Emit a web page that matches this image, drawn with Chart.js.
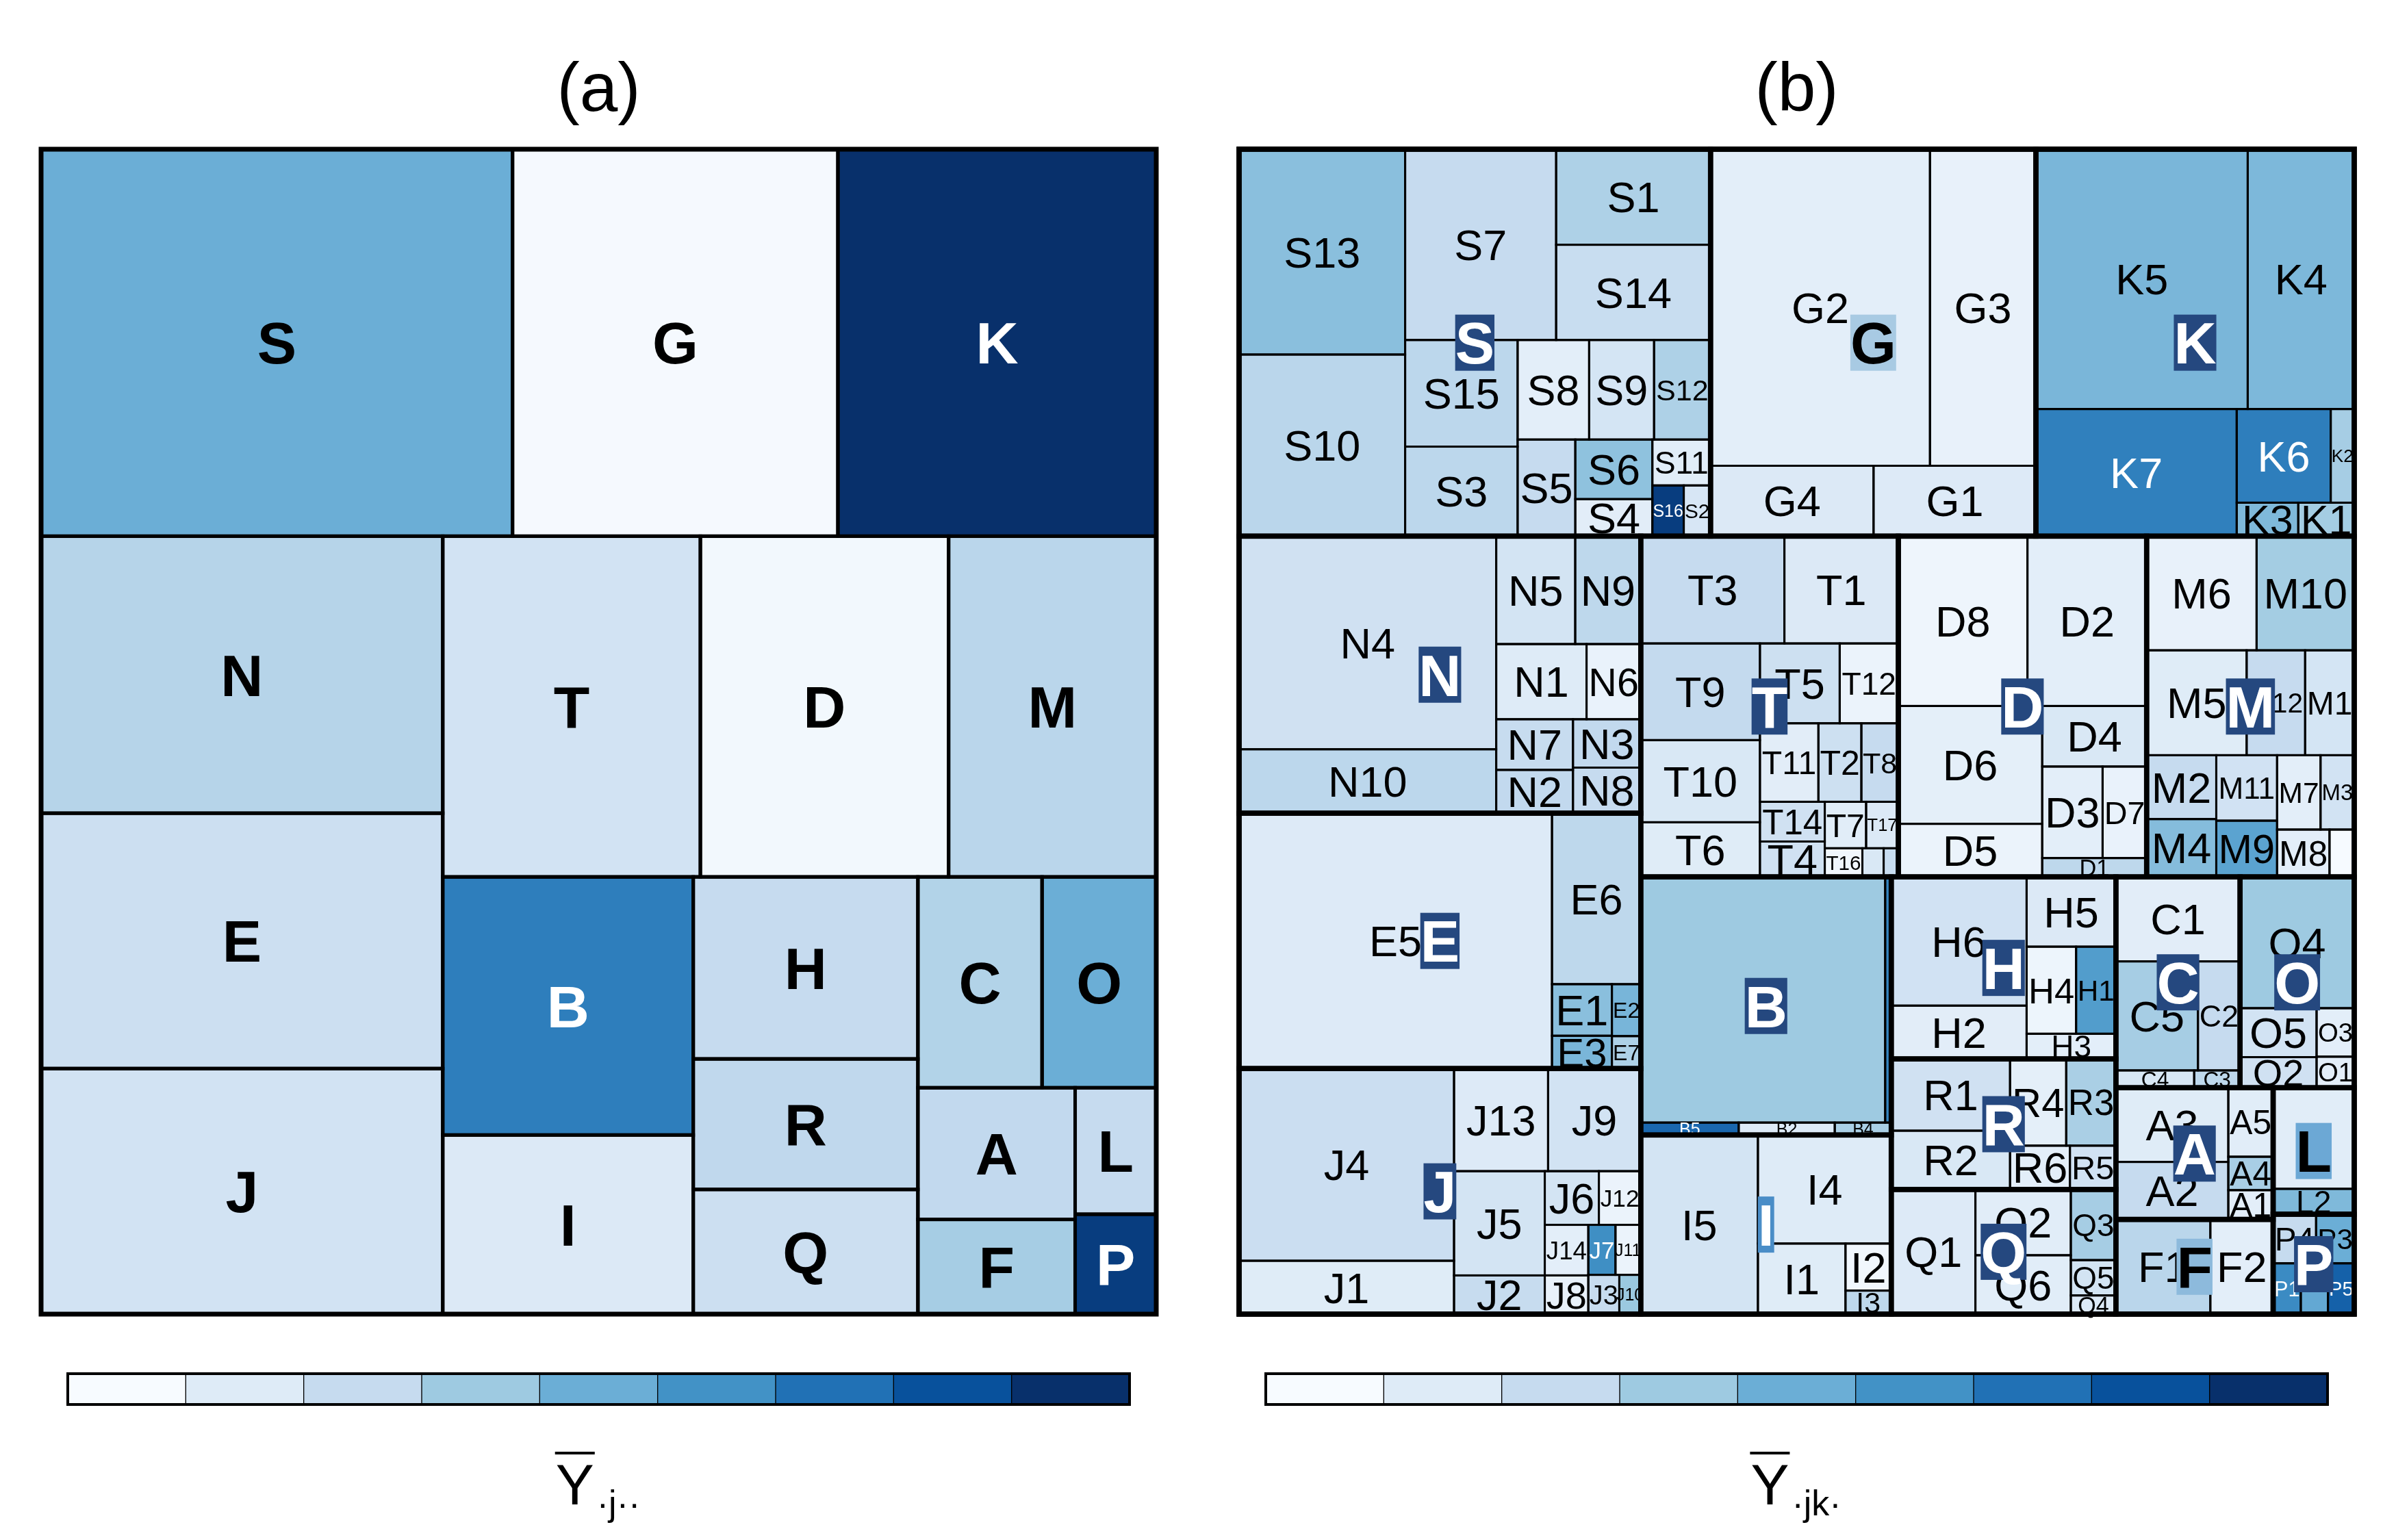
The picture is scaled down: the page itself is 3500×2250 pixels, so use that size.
<!DOCTYPE html>
<html>
<head>
<meta charset="utf-8">
<script src="https://cdn.jsdelivr.net/npm/chart.js@4.4.1/dist/chart.umd.min.js"></script>
<style>
  html, body { margin: 0; padding: 0; background: #fff; }
  #wrap { display: flex; width: 3500px; height: 2250px; }
  .panel { width: 1750px; height: 2250px; }
  .panel canvas { display: block; }
</style>
</head>
<body>
<div id="wrap">
  <div class="panel">
    <canvas id="mapA" width="1750" height="1960"></canvas>
    <canvas id="barA" width="1750" height="290"></canvas>
  </div>
  <div class="panel">
    <canvas id="mapB" width="1750" height="1960"></canvas>
    <canvas id="barB" width="1750" height="290"></canvas>
  </div>
</div>
<script>
// ---------- data ----------
const groupLabels = ['S','G','K','N','E','J','T','D','M','B','I','H','R','Q','C','O','A','F','L','P'];
// group means Y.j.. on the 0-8 colour scale of panel (a)
const groupMeans = [4.0, 0.1, 8.0, 2.4, 1.75, 1.5, 1.5, 0.2, 2.3, 5.6, 1.1, 2.0, 2.15, 1.75, 2.5, 4.0, 2.1, 2.8, 2.0, 7.6];

// sub groups (jk): label, size, mean Y.jk. on the 0-8 colour scale of panel (b)
const subLabels = [
  'S13','S10','S7','S1','S14','S15','S3','S8','S9','S12','S5','S6','S4','S11','S16','S2',
  'G2','G3','G4','G1',
  'K5','K4','K7','K6','K2','K3','K1',
  'N4','N10','N5','N9','N1','N6','N7','N2','N3','N8',
  'E5','E6','E1','E3','E2','E7',
  'J4','J1','J13','J9','J5','J2','J6','J12','J14','J8','J7','J11','J3','J10',
  'T3','T1','T9','T10','T6','T5','T12','T11','T2','T8','T14','T4','T7','T17','T16','T13','T15',
  'D8','D2','D6','D5','D4','D3','D7','D1',
  'M6','M10','M5','M12','M1','M2','M4','M11','M9','M7','M3','M8','M13',
  'B1','B3','B5','B2','B4',
  'I5','I4','I1','I2','I3',
  'H6','H2','H5','H4','H1','H3',
  'R1','R2','R4','R3','R6','R5',
  'Q1','Q2','Q6','Q3','Q5','Q4',
  'C1','C5','C2','C4','C3',
  'O4','O5','O2','O3','O1',
  'A3','A2','A5','A4','A1',
  'F1','F2',
  'L1','L2',
  'P4','P3','P1','P2','P5'
];
const subSizes = [
  72.8, 64.4, 61.5, 31.5, 31.4, 25.6, 21.5, 15.2, 13.8, 12.0, 11.9, 9.8, 6.1, 5.7, 3.4, 2.9,
  148.3, 71.6, 24.5, 24.4,
  117.5, 59.1, 54.5, 18.8, 4.7, 4.4, 4.0,
  117.0, 35.1, 18.2, 15.1, 14.5, 8.7, 8.3, 7.1, 7.0, 6.6,
  170.6, 32.4, 6.6, 4.2, 3.2, 2.0,
  88.2, 24.5, 20.6, 20.3, 20.2, 7.5, 6.2, 4.8, 4.7, 3.6, 2.9, 2.7, 2.6, 1.8,
  32.9, 26.1, 24.6, 20.9, 13.9, 13.6, 10.0, 9.8, 7.2, 6.2, 5.5, 4.9, 4.1, 3.2, 2.3, 1.3, 0.9,
  46.8, 43.2, 36.2, 16.3, 13.5, 11.8, 8.6, 4.2,
  26.8, 23.8, 22.4, 13.1, 11.0, 9.5, 8.6, 8.5, 7.3, 6.9, 5.35, 5.3, 2.5,
  128.2, 3.2, 2.6, 2.55, 1.5,
  44.8, 30.9, 13.2, 4.6, 2.3,
  37.2, 15.4, 13.3, 9.2, 7.4, 4.8,
  18.2, 14.9, 10.4, 9.2, 5.6, 4.3,
  22.4, 13.4, 12.0, 6.8, 3.4, 1.8,
  22.4, 19.1, 9.8, 2.9, 1.7,
  32.0, 8.0, 5.0, 3.9, 2.5,
  17.8, 13.8, 6.6, 3.2, 2.8,
  19.1, 12.7,
  17.5, 4.4,
  4.5, 4.0, 3.0, 2.95, 2.85
];
const subMeans = [
  3.4, 2.3, 2.0, 2.6, 1.9, 2.25, 2.25, 0.8, 1.4, 2.6, 2.0, 3.3, 0.85, 0.9, 7.6, 1.3,
  0.8, 0.6, 1.1, 1.05,
  3.7, 3.65, 5.55, 5.6, 2.8, 3.6, 2.85,
  1.6, 2.25, 1.45, 2.2, 1.0, 0.55, 1.95, 2.1, 2.1, 2.0,
  1.05, 2.2, 3.4, 3.7, 3.75, 2.6,
  1.8, 0.95, 1.05, 1.5, 1.45, 1.95, 1.45, 0.5, 0.8, 0.6, 5.1, 0.5, 1.95, 3.05,
  2.0, 1.1, 2.05, 1.2, 0.95, 1.7, 0.5, 0.85, 1.7, 2.0, 1.6, 1.6, 0.9, 1.1, 0.25, 1.2, 1.9,
  0.35, 0.8, 0.75, 0.5, 1.2, 0.8, 0.55, 2.2,
  0.6, 2.85, 0.95, 2.0, 1.4, 2.0, 3.5, 1.55, 4.4, 0.8, 1.5, 0.8, 0.05,
  3.0, 5.4, 6.3, 1.05, 2.7,
  1.45, 1.0, 0.95, 0.25, 2.2,
  1.55, 0.85, 1.1, 0.4, 4.6, 0.8,
  1.6, 1.2, 0.75, 2.7, 0.8, 1.55,
  1.05, 0.9, 0.9, 2.8, 1.45, 1.05,
  0.85, 2.8, 2.0, 1.2, 2.2,
  3.0, 1.5, 1.6, 0.8, 0.8,
  0.95, 2.0, 0.9, 2.75, 0.8,
  2.3, 0.8,
  0.9, 3.6,
  2.0, 4.0, 5.2, 4.2, 6.5
];

// ---------- styles ----------
const FONT = '"Liberation Sans", Arial, Helvetica, sans-serif';
const BLUES = ['#f7fbff','#deebf7','#c6dbef','#9ecae1','#6baed6','#4292c6','#2171b5','#08519c','#08306b'];
const BOX_DEFAULT = '#25487f';
const boxColors = { G: '#a8cae3', I: '#4a8dc7', L: '#6ca8d5', F: '#8dbadc' };
const boxDarkText = { G: true, L: true, F: true };

function hexRgb(h) { return [1, 3, 5].map(i => parseInt(h.slice(i, i + 2), 16)); }
function shade(v) {
  v = Math.max(0, Math.min(8, v));
  const i = Math.min(7, Math.floor(v)), t = v - i;
  const a = hexRgb(BLUES[i]), b = hexRgb(BLUES[i + 1]);
  return 'rgb(' + a.map((c, k) => Math.round(c + (b[k] - c) * t)).join(',') + ')';
}

const groupOf = lab => lab.replace(/\d+$/, '');
const groupSizes = groupLabels.map(g =>
  subSizes.reduce((s, v, i) => s + (groupOf(subLabels[i]) === g ? v : 0), 0));

// pivot-by-size treemap layout (items sorted by size, largest is the pivot)
function pivot(items, x, y, w, h, out) {
  if (!items.length) return;
  if (items.length === 1) { out.push(Object.assign({ x, y, w, h }, items[0])); return; }
  const total = items.reduce((s, d) => s + d.v, 0);
  const p = items[0], rest = items.slice(1);
  let best = 0, bestR = Infinity, acc = p.v;
  for (let k = 0; k <= rest.length; k++) {
    if (k > 0) acc += rest[k - 1].v;
    let pw, ph;
    if (w > h) { pw = acc / total * w; ph = p.v / acc * h; }
    else { ph = acc / total * h; pw = p.v / acc * w; }
    const r = Math.max(pw / ph, ph / pw);
    if (r < bestR) { bestR = r; best = k; }
  }
  const l2 = rest.slice(0, best), l3 = rest.slice(best);
  const a2 = p.v + l2.reduce((s, d) => s + d.v, 0);
  if (w > h) {
    const cw = a2 / total * w, ph = p.v / a2 * h;
    out.push(Object.assign({ x, y, w: cw, h: ph }, p));
    pivot(l2, x, y + ph, cw, h - ph, out);
    pivot(l3, x + cw, y, w - cw, h, out);
  } else {
    const bh = a2 / total * h, pw = p.v / a2 * w;
    out.push(Object.assign({ x, y, w: pw, h: bh }, p));
    pivot(l2, x + pw, y, w - pw, bh, out);
    pivot(l3, x, y + bh, w, h - bh, out);
  }
}
function layout(items, x, y, w, h) {
  const out = [];
  pivot(items.slice().sort((a, b) => b.v - a.v), x, y, w, h, out);
  return out;
}

function capText(ctx, text, cx, cy, size, weight, color) {
  ctx.font = weight + ' ' + size + 'px ' + FONT;
  ctx.textAlign = 'center';
  ctx.textBaseline = 'alphabetic';
  ctx.fillStyle = color;
  ctx.fillText(text, cx, cy + 0.358 * size);
}

function treemapPlugin(nested) {
  return {
    id: 'treemap',
    afterDatasetsDraw(chart) {
      const { ctx, chartArea: a, scales: { x, y } } = chart;
      const W = a.right - a.left, H = a.bottom - a.top;
      // layout in plot-proportional units, then into data units (0-100) and back through the scales
      const px = r => ({
        l: x.getPixelForValue(r.x / W * 100), r: x.getPixelForValue((r.x + r.w) / W * 100),
        t: y.getPixelForValue(r.y / H * 100), b: y.getPixelForValue((r.y + r.h) / H * 100)
      });
      const groups = layout(groupLabels.map((g, i) => ({ lab: g, v: groupSizes[i], m: groupMeans[i] })), 0, 0, W, H);
      ctx.save();
      ctx.lineJoin = 'miter';
      if (!nested) {
        groups.forEach(g => {
          const p = px(g);
          ctx.fillStyle = shade(g.m);
          ctx.fillRect(p.l, p.t, p.r - p.l, p.b - p.t);
        });
        ctx.strokeStyle = '#000';
        ctx.lineWidth = 5;
        groups.forEach(g => { const p = px(g); ctx.strokeRect(p.l, p.t, p.r - p.l, p.b - p.t); });
        ctx.lineWidth = 7;
        ctx.strokeRect(a.left, a.top, W, H);
        groups.forEach(g => {
          const p = px(g);
          capText(ctx, g.lab, (p.l + p.r) / 2, (p.t + p.b) / 2, 86, 'bold', g.m >= 5 ? '#fff' : '#000');
        });
      } else {
        const subs = [];
        const boxes = {};
        ctx.font = 'bold 86px ' + FONT;
        groups.forEach(g => {
          const items = [];
          subLabels.forEach((s, i) => { if (groupOf(s) === g.lab) items.push({ lab: s, v: subSizes[i], m: subMeans[i], g: g.lab }); });
          layout(items, g.x, g.y, g.w, g.h).forEach(r => subs.push(r));
          const p = px(g), cx = (p.l + p.r) / 2, cy = (p.t + p.b) / 2;
          const tw = ctx.measureText(g.lab).width;
          boxes[g.lab] = { l: cx - tw / 2, r: cx + tw / 2, t: cy - 41, b: cy + 41, cx, cy };
        });
        subs.forEach(s => {
          const p = px(s);
          ctx.fillStyle = shade(s.m);
          ctx.fillRect(p.l, p.t, p.r - p.l, p.b - p.t);
        });
        ctx.strokeStyle = '#000';
        ctx.lineWidth = 3;
        subs.forEach(s => { const p = px(s); ctx.strokeRect(p.l, p.t, p.r - p.l, p.b - p.t); });
        // sub labels: shrink to fit, hide when too small or mostly under the group label
        subs.forEach(s => {
          const p = px(s), w = p.r - p.l, h = p.b - p.t;
          ctx.font = '400 100px ' + FONT;
          const em = ctx.measureText(s.lab).width / 100;
          let size = Math.min(63, 0.93 * w / em, 1.25 * h);
          if (size < 17.6) return;
          size = Math.max(size, 25);
          const cx = (p.l + p.r) / 2, cy = (p.t + p.b) / 2;
          const bb = { l: cx - em * size / 2, r: cx + em * size / 2, t: cy - 0.37 * size, b: cy + 0.37 * size };
          const gb = boxes[s.g];
          const ox = Math.max(0, Math.min(bb.r, gb.r) - Math.max(bb.l, gb.l));
          const oy = Math.max(0, Math.min(bb.b, gb.b) - Math.max(bb.t, gb.t));
          if (ox * oy > 0.5 * (bb.r - bb.l) * (bb.b - bb.t)) return;
          capText(ctx, s.lab, cx, cy, size, '400', s.m >= 5 ? '#fff' : '#000');
        });
        ctx.lineWidth = 7.5;
        groups.forEach(g => { const p = px(g); ctx.strokeRect(p.l, p.t, p.r - p.l, p.b - p.t); });
        ctx.strokeRect(a.left, a.top, W, H);
        groupLabels.forEach(g => {
          const b = boxes[g];
          ctx.fillStyle = boxColors[g] || BOX_DEFAULT;
          ctx.fillRect(b.l, b.t, b.r - b.l, b.b - b.t);
          capText(ctx, g, b.cx, b.cy, 86, 'bold', boxDarkText[g] ? '#000' : '#fff');
        });
      }
      ctx.restore();
    }
  };
}

function makeMap(id, title, nested) {
  return new Chart(document.getElementById(id), {
    type: 'scatter',
    data: { datasets: [{ data: [] }] },
    options: {
      responsive: false,
      animation: false,
      devicePixelRatio: 1,
      layout: { padding: { left: 60, right: 61, top: 34, bottom: 40 } },
      plugins: {
        legend: { display: false },
        tooltip: { enabled: false },
        title: {
          display: true, text: title, color: '#000',
          font: { family: FONT, size: 100, weight: 'normal', lineHeight: 1.2 },
          padding: { top: 40, bottom: 24 }
        }
      },
      scales: {
        x: { type: 'linear', min: 0, max: 100, display: false },
        y: { type: 'linear', min: 0, max: 100, reverse: true, display: false }
      }
    },
    plugins: [treemapPlugin(nested)]
  });
}

// colour key: nine equal steps of the Blues palette, plus the axis symbol under it
function keyPlugin(sub) {
  return {
    id: 'key',
    afterDatasetsDraw(chart) {
      const { ctx, chartArea: a } = chart;
      ctx.save();
      ctx.strokeStyle = '#000';
      ctx.lineWidth = 4;
      ctx.strokeRect(a.left, a.top, a.right - a.left, a.bottom - a.top);
      const cx = (a.left + a.right) / 2 - 1;
      ctx.font = '400 84px ' + FONT;
      const wy = ctx.measureText('Y').width;
      ctx.font = '400 52px ' + FONT;
      const ws = ctx.measureText(sub).width;
      const x0 = cx - (wy + 4 + ws) / 2, base = 238;
      ctx.fillStyle = '#000';
      ctx.textAlign = 'left';
      ctx.textBaseline = 'alphabetic';
      ctx.font = '400 84px ' + FONT;
      ctx.fillText('Y', x0, base);
      ctx.fillRect(x0 - 1, base - 77, wy + 2, 4);
      ctx.font = '400 52px ' + FONT;
      ctx.fillText(sub, x0 + wy + 4, base + 16);
      ctx.restore();
    }
  };
}

function makeKey(id, sub) {
  return new Chart(document.getElementById(id), {
    type: 'bar',
    data: {
      labels: [''],
      datasets: BLUES.map(c => ({
        data: [1], backgroundColor: c, borderColor: '#000', borderWidth: 1,
        borderSkipped: false, barPercentage: 1, categoryPercentage: 1
      }))
    },
    options: {
      indexAxis: 'y',
      responsive: false,
      animation: false,
      devicePixelRatio: 1,
      layout: { padding: { left: 99, right: 100, top: 47, bottom: 198 } },
      plugins: { legend: { display: false }, tooltip: { enabled: false } },
      scales: {
        x: { stacked: true, min: 0, max: BLUES.length, display: false },
        y: { stacked: true, display: false }
      }
    },
    plugins: [keyPlugin(sub)]
  });
}

makeMap('mapA', '(a)', false);
makeMap('mapB', '(b)', true);
makeKey('barA', '\u00b7j\u00b7\u00b7');
makeKey('barB', '\u00b7jk\u00b7');
</script>
</body>
</html>
